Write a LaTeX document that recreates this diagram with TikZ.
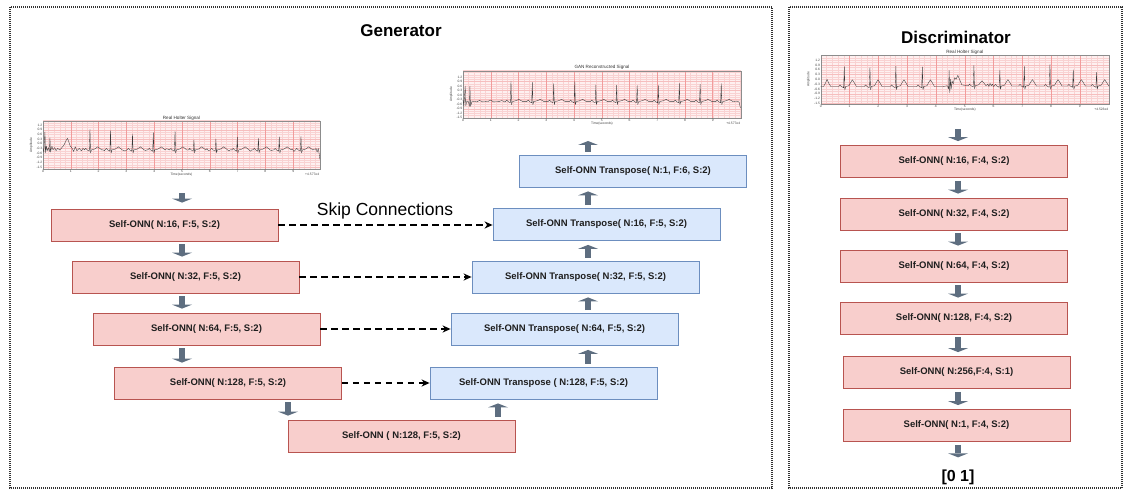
\documentclass[tikz,border=0pt]{standalone}
\usepackage{fontspec}
\setmainfont{Liberation Sans}
\usetikzlibrary{arrows.meta,calc}
\definecolor{redfill}{HTML}{F8CECC}
\definecolor{redline}{HTML}{B85450}
\definecolor{bluefill}{HTML}{DAE8FC}
\definecolor{blueline}{HTML}{6C8EBF}
\definecolor{arrowcol}{HTML}{5E6E80}
\definecolor{gridbg}{HTML}{FEF0F0}
\definecolor{gridminor}{HTML}{F9D2D2}
\definecolor{gridmid}{HTML}{F6BEBE}
\definecolor{gridmajor}{HTML}{F29C9C}
\definecolor{sigcol}{HTML}{3A3A3A}

\tikzset{
  enc/.style={draw=redline, fill=redfill, line width=0.8pt, minimum width=227pt, minimum height=32pt, inner sep=0pt, font=\fontsize{9.5}{11}\selectfont\bfseries, text=black!88},
  dec/.style={enc, draw=blueline, fill=bluefill},
  frame/.style={draw=black!80, line width=1.1pt, dash pattern=on 1pt off 1pt},
  blk/.style={draw=arrowcol, line width=6pt, -{Triangle[length=4pt,width=20pt,line width=0pt]}, shorten <=3pt, shorten >=4pt},
  skip/.style={draw=black, line width=1.6pt, dash pattern=on 6.5pt off 4.5pt, -{Stealth[length=8pt,width=7pt,inset=2.5pt]}},
  ticklab/.style={font=\fontsize{3.3}{3.6}\selectfont, text=black!75, inner sep=0.6pt},
  titlelab/.style={font=\fontsize{4.6}{5}\selectfont, text=black!80, inner sep=0.8pt},
  sig/.style={draw=sigcol, line width=0.35pt, line join=round},
  bigtitle/.style={font=\fontsize{17}{20}\selectfont\bfseries, inner sep=0pt}
}

\newcommand\ecgaxes[5]{%
  \fill[gridbg] (0,#2) rectangle (#1,#3);
  \begin{scope}
    \clip (0,#2) rectangle (#1,#3);
    \foreach \gy in {-1.8,-1.65,...,1.8} \draw[gridminor, line width=0.25pt] (0,\gy) -- (#1,\gy);
    \foreach \gx in {0.2,0.4,...,10} \draw[gridminor, line width=0.25pt] (\gx,#2) -- (\gx,#3);
    \foreach \gy in {-1.5,-0.9,...,1.5} \draw[gridmid, line width=0.3pt] (0,\gy) -- (#1,\gy);
    \foreach \gx in {1,...,9} \draw[gridmajor, line width=0.4pt] (\gx,#2) -- (\gx,#3);
  \end{scope}
  \draw[black!45, line width=0.4pt] (0,#2) rectangle (#1,#3);
  \foreach \tk in {0,...,9} \node[ticklab,anchor=north] at (\tk,#2) {\tk};
  \foreach \vv in {1.2,0.9,0.6,0.3,0.0,-0.3,-0.6,-0.9,-1.2,-1.5} \node[ticklab,anchor=east] at (0,\vv) {\vv};
  \node[ticklab,anchor=north,yshift=-3.6pt] at ({#1/2},#2) {Time(seconds)};
  \node[ticklab,anchor=north east,yshift=-3.6pt] at (#1,#2) {#4};
  \node[ticklab,rotate=90] at (-0.42,{(#2+#3)/2}) {Amplitude};
  \node[titlelab,anchor=south] at ({#1/2},#3) {#5};
}

\newcommand\ecgbeat[4]{%
 -- ({#1-0.2},#4) -- ({#1-0.15},{#4+0.1}) -- ({#1-0.1},#4) -- ({#1-0.025},{#4-0.08}) -- (#1,#2) -- ({#1+0.02},{#4-0.2}) -- ({#1+0.05},#4) -- ({#1+0.16},{#4+0.05}) -- ({#1+0.22},{#4+0.6*#3}) -- ({#1+0.28},{#4+#3}) -- ({#1+0.34},{#4+0.6*#3}) -- ({#1+0.42},#4)}

\begin{document}
\begin{tikzpicture}[x=1pt,y=-1pt]
\pgfmathsetseed{11}
\useasboundingbox (0,0) rectangle (1126,489);

% frames
\draw[frame] (10,7) rectangle (772,488);
\draw[frame] (789,7) rectangle (1122,488);

% titles
\node[bigtitle] (gtitle) at (401,31) {Generator};
\node[bigtitle] (dtitle) at (956,37) {Discriminator};

% ---------- plot 1 : generator input
\begin{scope}[shift={(43,143.7)}, x=27.8pt, y=15.56pt]
  \ecgaxes{9.96}{-1.63}{1.46}{+4.577e4}{Real Holter Signal}
  \draw[sig] (0,-0.3) -- (0.03,-0.55) -- (0.07,0.77) -- (0.09,-0.6) -- (0.12,-0.15) -- (0.15,-0.45) -- (0.19,-0.25) -- (0.23,-0.5) -- (0.25,0.39) -- (0.27,-0.55) -- (0.32,-0.15) -- (0.36,-0.4) -- (0.42,-0.25) -- (0.47,-0.45) -- (0.53,-0.3) -- (0.6,-0.4) -- (0.68,-0.25) -- (0.75,-0.1) -- (0.83,0.2) -- (0.88,0.35) -- (0.93,0.1) -- (0.98,-0.15) -- (1.05,-0.3) -- (1.1,-0.5) -- (1.16,-0.2) -- (1.22,-0.45) -- (1.3,-0.3) -- (1.38,-0.45) -- (1.44,-0.3)
  \foreach \r/\a in {1.69/0.92,2.43/0.85,3.22/0.62,3.97/0.71,4.75/0.8,5.43/0.25,6.22/0.3,6.99/0.42,7.75/0.35,8.5/0.45,9.28/0.48} {\ecgbeat{\r}{\a}{0.2}{-0.4} -- ({\r+0.47},{-0.4+0.1*rand}) -- ({\r+0.52},{-0.42+0.1*rand})}
  -- (9.82,-0.3) -- (9.86,-0.55) -- (9.9,-0.3) -- (9.93,-0.6) -- (9.96,-1.0);
\end{scope}
\coordinate (p1b) at (182,190);

% ---------- plot 2 : reconstructed
\begin{scope}[shift={(463,95.1)}, x=27.74pt, y=15.1pt]
  \ecgaxes{10.02}{-1.52}{1.6}{+4.577e4}{GAN Reconstructed Signal}
  \draw[sig] (0,-0.3) -- (0.03,-0.7) -- (0.08,0.6) -- (0.1,-0.7) -- (0.14,-0.4) -- (0.2,-0.45) -- (0.23,-0.75) -- (0.25,0.6) -- (0.27,-0.75) -- (0.33,-0.4) -- (0.5,-0.45) -- (0.6,-0.35) -- (0.7,-0.45) -- (0.9,-0.42) -- (1.0,-0.33) -- (1.1,-0.45) -- (1.3,-0.43) -- (1.4,-0.36) -- (1.5,-0.45)
  \foreach \r/\a in {1.73/0.93,2.5/0.84,3.27/0.77,4.03/0.9,4.79/0.68,5.54/0.66,6.28/0.64,7.04/0.66,7.8/0.77,8.55/0.72,9.31/0.77} {\ecgbeat{\r}{\a}{0.15}{-0.43}}
  -- (9.85,-0.4) -- (9.95,-0.45) -- (10.0,-0.85);
\end{scope}
\coordinate (p2b) at (588,137);

% ---------- plot 3 : discriminator input
\begin{scope}[shift={(820.7,79.3)}, x=28.8pt, y=16pt]
  \ecgaxes{10.01}{-1.54}{1.52}{+4.523e4}{Real Holter Signal}
  \draw[sig] (0,-0.45) -- (0.1,-0.45) -- (0.16,-0.25) -- (0.22,0.0) -- (0.28,-0.25) -- (0.35,-0.45) -- (0.6,-0.45)
  \foreach \r/\a in {0.82/0.79,1.71/0.74,2.61/0.82,3.53/0.78} {\ecgbeat{\r}{\a}{0.42}{-0.45}}
  -- (4.25,-0.45) -- (4.4,-0.4) -- (4.44,-0.6) -- (4.46,0.55) -- (4.48,-0.86) -- (4.5,0.0) -- (4.53,-0.6) -- (4.56,-0.1) -- (4.6,-0.3) -- (4.65,0.1) -- (4.7,0.0) -- (4.76,0.25) -- (4.82,0.0) -- (4.9,-0.35) -- (5.1,-0.4)
  \ecgbeat{5.32}{0.87}{0.3}{-0.4}
  -- (5.8,-0.3) -- (5.84,-0.45) -- (5.88,-0.25) -- (5.92,-0.4) -- (5.96,-0.3) -- (6.0,-0.45)
  \foreach \r/\a in {6.22/0.56,7.07/0.8,7.96/0.95,8.77/0.6,9.58/0.43} {\ecgbeat{\r}{\a}{0.4}{-0.42}};
\end{scope}
\coordinate (p3b) at (958,126);

% ---------- generator encoder
\node[enc] (E1) at (164.5,225) {Self-ONN( N:16, F:5, S:2)};
\node[enc] (E2) at (185.5,277) {Self-ONN( N:32, F:5, S:2)};
\node[enc] (E3) at (206.5,329) {Self-ONN( N:64, F:5, S:2)};
\node[enc] (E4) at (228,383) {Self-ONN( N:128, F:5, S:2)};
\node[enc] (B)  at (401.5,436) {Self-ONN ( N:128, F:5, S:2)};

% ---------- generator decoder
\node[dec] (D4) at (543.5,383) {Self-ONN Transpose ( N:128, F:5, S:2)};
\node[dec] (D3) at (564.5,329.5) {Self-ONN Transpose( N:64, F:5, S:2)};
\node[dec] (D2) at (585.5,277) {Self-ONN Transpose( N:32, F:5, S:2)};
\node[dec] (D1) at (606.5,224.5) {Self-ONN Transpose( N:16, F:5, S:2)};
\node[dec] (D0) at (633,171) {Self-ONN Transpose( N:1, F:6, S:2)};

% ---------- discriminator
\node[enc] (C1) at (954,161.5) {Self-ONN( N:16, F:4, S:2)};
\node[enc] (C2) at (954,214) {Self-ONN( N:32, F:4, S:2)};
\node[enc] (C3) at (954,266) {Self-ONN( N:64, F:4, S:2)};
\node[enc] (C4) at (954,318) {Self-ONN( N:128, F:4, S:2)};
\node[enc] (C5) at (956.5,372.5) {Self-ONN( N:256,F:4, S:1)};
\node[enc] (C6) at (956.5,425.5) {Self-ONN( N:1, F:4, S:2)};
\node[font=\fontsize{16}{18}\selectfont\bfseries, inner sep=0pt] (OUT) at (958,477) {[0 1]};

% ---------- block arrows
\coordinate (ex) at (182,0);
\coordinate (dx) at (588,0);
\coordinate (cx) at (958,0);
\draw[blk, shorten >=6pt] (p1b) -- (E1.north -| p1b);
\draw[blk] (E1.south -| ex) -- (E2.north -| ex);
\draw[blk] (E2.south -| ex) -- (E3.north -| ex);
\draw[blk] (E3.south -| ex) -- (E4.north -| ex);
\coordinate (bx) at (288,0);
\draw[blk] (E4.south -| bx) -- (B.north -| bx);
\coordinate (ux) at (498,0);
\draw[blk] (B.north -| ux) -- (D4.south -| ux);
\draw[blk] (D4.north -| dx) -- (D3.south -| dx);
\draw[blk] (D3.north -| dx) -- (D2.south -| dx);
\draw[blk] (D2.north -| dx) -- (D1.south -| dx);
\draw[blk] (D1.north -| dx) -- (D0.south -| dx);
\draw[blk] (D0.north -| p2b) -- (p2b);
\draw[blk] (p3b) -- (C1.north -| p3b);
\draw[blk] (C1.south -| cx) -- (C2.north -| cx);
\draw[blk] (C2.south -| cx) -- (C3.north -| cx);
\draw[blk] (C3.south -| cx) -- (C4.north -| cx);
\draw[blk] (C4.south -| cx) -- (C5.north -| cx);
\draw[blk] (C5.south -| cx) -- (C6.north -| cx);
\draw[blk, shorten >=12pt] (C6.south -| cx) -- (OUT.north);

% ---------- skip connections
\draw[skip] (E1.east) -- (D1.west |- E1.east);
\draw[skip] (E2.east) -- (D2.west |- E2.east);
\draw[skip] (E3.east) -- (D3.west |- E3.east);
\draw[skip] (E4.east) -- (D4.west |- E4.east);
\node[font=\fontsize{17.5}{20}\selectfont, inner sep=0pt] (skiplab) at (385,211) {Skip Connections};
\end{tikzpicture}
\end{document}
